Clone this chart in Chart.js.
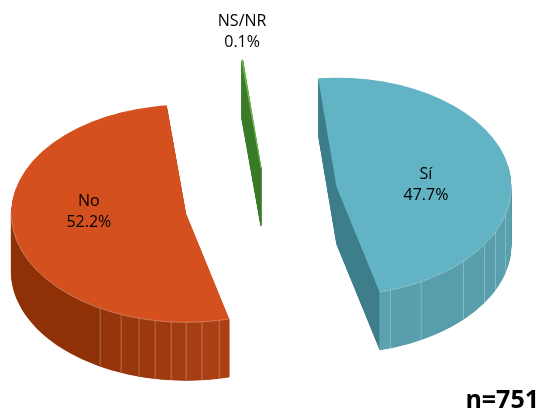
<!DOCTYPE html>
<html><head><meta charset="utf-8">
<style>html,body{margin:0;padding:0;background:#fff}canvas{display:block}</style>
<script src="https://cdn.jsdelivr.net/npm/chart.js@4/dist/chart.umd.js"></script>
</head><body><canvas id="c" width="539" height="408"></canvas>
<script>
const categories = ['Sí', 'No', 'NS/NR'];
const percentages = [47.7, 52.2, 0.1];
const percentLabels = ['47.7%', '52.2%', '0.1%'];
const sampleLabel = 'n=751';

const topColors = ['#62B3C4', '#D5501F', '#6DB54A'];
const cutColors = ['#3F7E8C', '#8F3107', '#3A7A29'];
const explode = [76.6, 75.6, 32];
const nudgeX = [0.5, 0, 4];
const edgeWidth = [0, 0, 1];

// wall facets: boundary angles (degrees clockwise from 12 o'clock) and colours
const facetStops = [
  [105, 114.6, 122.2, 133.4, 151, 162],
  [169.1, 174.8, 180, 184.9, 190.2, 195.6, 201.8, 209.4],
  []
];
const facetShades = [
  ['#5AA0AE', '#599FAD', '#589EAC', '#589EAC', '#579DAB', '#589EAC', '#5BA1AF'],
  ['#AB4113', '#A93F12', '#A63E11', '#A33C0F', '#A03A0E', '#9C380C', '#99360A', '#953409', '#8F3107'],
  ['#3A7A29']
];

const tilt = 0.622, depth = 58, hub = {x: 260.5, y: 200};
const DEG = Math.PI / 180;

const pie3d = {
  id: 'pie3d',
  beforeDatasetDraw(chart, args) {
    const ctx = chart.ctx, arcs = args.meta.data;
    const origin = (el, i) => {
      const mid = (el.startAngle + el.endAngle) / 2;
      return {x: hub.x + nudgeX[i] + Math.cos(mid) * explode[i], y: hub.y + Math.sin(mid) * explode[i]};
    };
    const place = (el, i, down) => {
      const o = origin(el, i);
      ctx.translate(o.x, o.y + down);
      ctx.scale(1, tilt);
      ctx.translate(-el.x, -el.y);
    };
    const paint = (el, colour, edge) => {
      const o = el.options;
      el.options = new Proxy(o, {get: (t, p) =>
        p === 'backgroundColor' || p === 'borderColor' ? colour :
        p === 'borderWidth' ? edge : t[p]});
      el.draw(ctx);
      el.options = o;
    };
    arcs.forEach((el, i) => {
      const R = el.outerRadius, c = origin(el, i);
      // cut faces: the slice swept downwards
      for (let d = depth; d >= 1; d--) {
        ctx.save();
        place(el, i, d);
        paint(el, cutColors[i], edgeWidth[i]);
        ctx.restore();
      }
      // outer wall: one filled band per facet, front half of the ellipse only
      if (i < 2) {
        const stops = [el.startAngle, ...facetStops[i].map(t => (t - 90) * DEG), el.endAngle];
        ctx.save();
        for (let s = 0; s < stops.length - 1; s++) {
          const a0 = Math.max(stops[s], 0), a1 = Math.min(stops[s + 1], Math.PI);
          if (a1 <= a0) continue;
          ctx.beginPath();
          ctx.ellipse(c.x, c.y, R, R * tilt, 0, a0, a1);
          ctx.ellipse(c.x, c.y + depth, R, R * tilt, 0, a1, a0, true);
          ctx.closePath();
          ctx.fillStyle = facetShades[i][s];
          ctx.strokeStyle = facetShades[i][s];
          ctx.lineWidth = 0.4;
          ctx.fill();
          ctx.stroke();
        }
        ctx.strokeStyle = 'rgba(255,255,255,0.3)';
        ctx.lineWidth = 1;
        facetStops[i].forEach(t => {
          const a = (t - 90) * DEG;
          const x = c.x + Math.cos(a) * R, y = c.y + Math.sin(a) * R * tilt;
          ctx.beginPath();
          ctx.moveTo(x, y);
          ctx.lineTo(x, y + depth);
          ctx.stroke();
        });
        ctx.restore();
      }
      // top surface with a thin bright rim
      ctx.save();
      place(el, i, 0);
      paint(el, topColors[i], edgeWidth[i]);
      if (i < 2) {
        ctx.beginPath();
        ctx.arc(el.x, el.y, R, Math.max(el.startAngle, 0), Math.min(el.endAngle, Math.PI));
        ctx.strokeStyle = 'rgba(255,255,255,0.45)';
        ctx.lineWidth = 0.8;
        ctx.stroke();
      }
      ctx.restore();
    });
    return false;
  },
  afterDatasetsDraw(chart) {
    const ctx = chart.ctx, arcs = chart.getDatasetMeta(0).data;
    const spots = [[0.52, 0, -2], [0.565, 0, -1.5], [1.005, 1, -28]];
    ctx.save();
    ctx.font = '16px "Open Sans"';
    ctx.fillStyle = '#000';
    ctx.textAlign = 'center';
    ctx.textBaseline = 'middle';
    arcs.forEach((el, i) => {
      const mid = (el.startAngle + el.endAngle) / 2;
      const ox = hub.x + nudgeX[i] + Math.cos(mid) * explode[i], oy = hub.y + Math.sin(mid) * explode[i];
      const [rf, yf, lift] = spots[i];
      const x = ox + Math.cos(mid) * el.outerRadius * rf;
      const y = oy + Math.sin(mid) * el.outerRadius * tilt * yf + lift;
      ctx.fillText(categories[i], x, y - 10.5);
      ctx.fillText(percentLabels[i], x, y + 10.5);
    });
    ctx.restore();
  }
};

new Chart(document.getElementById('c'), {
  type: 'pie',
  data: {labels: categories, datasets: [{data: percentages, backgroundColor: topColors, borderWidth: 0}]},
  options: {
    responsive: false,
    animation: false,
    radius: 175,
    rotation: -6,
    layout: {padding: 0},
    plugins: {
      legend: {display: false},
      tooltip: {enabled: false},
      title: {
        display: true, text: sampleLabel, position: 'bottom', align: 'end', color: '#000',
        padding: 0, font: {family: '"Open Sans"', size: 25, weight: 'bold', lineHeight: 0.6}
      }
    }
  },
  plugins: [pie3d]
});
</script></body></html>
